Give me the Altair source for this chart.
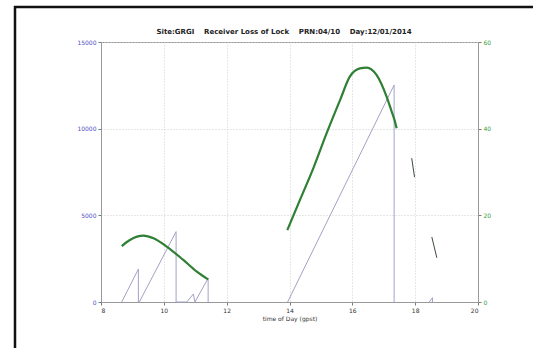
import altair as alt
import pandas as pd

# Lock counter (left axis): sawtooth segments, each ending with a drop to zero
lock_seg = [1, 1, 1, 1, 1, 1, 1, 1, 1, 1, 1, 1, 2, 2, 2, 3, 3, 3]
lock_hour = [8.66, 9.19, 9.19, 9.22, 10.39, 10.39, 10.73, 10.94, 10.99, 11.41, 11.41, 11.41,
             13.94, 17.33, 17.33, 18.45, 18.55, 18.55]
lock_count = [0, 1900, 0, 0, 4060, 0, 0, 460, 0, 1370, 1370, 0,
              0, 12520, 0, 0, 250, 0]

# Satellite elevation (right axis), two arcs
elev_seg = [1] * 8 + [2] * 13
elev_hour = [8.66, 8.92, 9.35, 9.67, 10.09, 10.62, 11.05, 11.41,
             13.93, 14.33, 14.76, 15.18, 15.61, 15.92, 16.24, 16.46, 16.77, 17.09, 17.25, 17.35, 17.41]
elev_deg = [12.9, 14.3, 15.3, 14.7, 12.8, 9.7, 7.0, 5.2,
            16.6, 23.5, 30.9, 38.9, 46.6, 52.0, 53.9, 54.1, 52.4, 47.4, 44.0, 41.8, 40.1]

# Short isolated elevation fragments
frag_seg = [1, 1, 2, 2]
frag_hour = [17.89, 17.98, 18.53, 18.69]
frag_deg = [33.2, 28.8, 15.0, 10.2]

x_ticks = [8, 10, 12, 14, 16, 18, 20]
left_ticks = [0, 5000, 10000, 15000]
right_ticks = [0, 20, 40, 60]

gap = "\u00a0" * 4
title_text = gap.join(["Site:GRGI", "Receiver Loss of Lock", "PRN:04/10", "Day:12/01/2014"])

lock_df = pd.DataFrame({"seg": lock_seg, "hour": lock_hour, "count": lock_count,
                        "idx": range(len(lock_hour))})
elev_df = pd.DataFrame({"seg": elev_seg, "hour": elev_hour, "deg": elev_deg})
frag_df = pd.DataFrame({"seg": frag_seg, "hour": frag_hour, "deg": frag_deg})
title_df = pd.DataFrame({"t": [title_text]})

font = "DejaVu Sans"
x_enc = alt.X("hour:Q", scale=alt.Scale(domain=[8, 20], nice=False),
              axis=alt.Axis(values=x_ticks, title="time of Day (gpst)", titleFontSize=6,
                            titleFontWeight="normal", titleColor="#333", titlePadding=2,
                            labelFontSize=6, labelColor="#333", labelPadding=2,
                            tickSize=3, tickColor="#777", domainColor="#999",
                            grid=True, gridColor="#cfcfcf", gridDash=[1, 2],
                            labelFont=font, titleFont=font))

lock = alt.Chart(lock_df).mark_line(color="#a2a2c6", strokeWidth=1).encode(
    x=x_enc,
    y=alt.Y("count:Q", scale=alt.Scale(domain=[0, 15000], nice=False),
            axis=alt.Axis(values=left_ticks, format="d", title=None, labelFontSize=6,
                          labelColor="#5050c4", labelPadding=2, tickSize=3,
                          tickColor="#777", domainColor="#999",
                          grid=True, gridColor="#cfcfcf", gridDash=[1, 2],
                          labelFont=font)),
    detail="seg:N",
    order="idx:Q",
)

elev = alt.Chart(elev_df).mark_line(color="#2f7f34", strokeWidth=2.2,
                                    interpolate="monotone").encode(
    x="hour:Q",
    y=alt.Y("deg:Q", scale=alt.Scale(domain=[0, 60], nice=False),
            axis=alt.Axis(values=right_ticks, format="d", orient="right", title=None,
                          labelFontSize=6, labelColor="#3c9a3c", labelPadding=2,
                          tickSize=3, tickColor="#777", domainColor="#999", grid=False,
                          labelFont=font)),
    detail="seg:N")

frag = alt.Chart(frag_df).mark_line(color="#3d4a3d", strokeWidth=1).encode(
    x="hour:Q",
    y=alt.Y("deg:Q", scale=alt.Scale(domain=[0, 60], nice=False), axis=None),
    detail="seg:N")

# Figure title
title = alt.Chart(title_df).mark_text(fontSize=7, fontWeight="bold", color="#222",
                                      font=font, baseline="alphabetic").encode(
    x=alt.value(183), y=alt.value(-8), text="t:N")

# Black frame edges (top and left) around the figure
frame_top = alt.Chart(title_df).mark_rule(color="#111", strokeWidth=2.5).encode(
    x=alt.value(-87), x2=alt.value(440), y=alt.value(-35))
frame_left = alt.Chart(title_df).mark_rule(color="#111", strokeWidth=2.5).encode(
    x=alt.value(-86), y=alt.value(-36), y2=alt.value(320))

chart = alt.layer(lock, elev, frag, title, frame_top, frame_left).resolve_scale(
    y="independent").properties(
    width=377, height=260,
    padding={"left": 101, "top": 42, "right": 55, "bottom": 46},
    autosize=alt.AutoSizeParams(type="none"),
    background="white",
).configure_view(stroke="#999", strokeWidth=1)

chart.save("out.html", embed_options={"renderer": "svg", "actions": False})
